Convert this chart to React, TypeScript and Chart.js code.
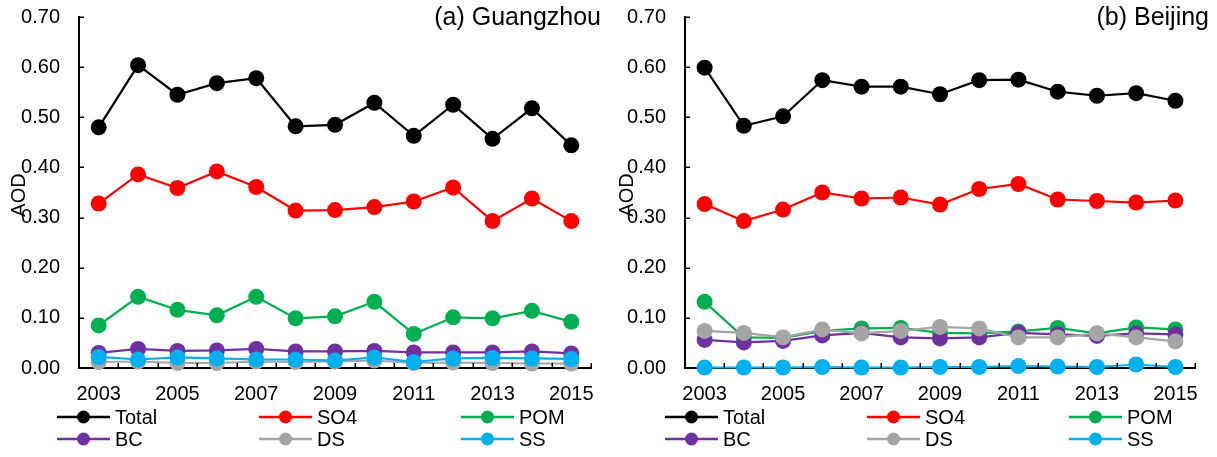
import React, { useEffect, useRef } from 'react';
import { Chart, registerables } from 'chart.js';

Chart.register(...registerables);

const FONT = '"Liberation Sans", Arial, sans-serif';

const years = ['2003', '2004', '2005', '2006', '2007', '2008', '2009', '2010', '2011', '2012', '2013', '2014', '2015'];
const yTicks = [0, 0.1, 0.2, 0.3, 0.4, 0.5, 0.6, 0.7];
const seriesNames = ['Total', 'SO4', 'POM', 'BC', 'DS', 'SS'];
const seriesColors = ['#000000', '#FF0000', '#00B050', '#7030A0', '#A5A5A5', '#00B0F0'];

// (a) Guangzhou
const gzTotal = [0.480, 0.604, 0.545, 0.568, 0.578, 0.482, 0.485, 0.529, 0.463, 0.525, 0.457, 0.518, 0.444];
const gzSO4 = [0.328, 0.386, 0.359, 0.392, 0.361, 0.314, 0.315, 0.321, 0.332, 0.360, 0.293, 0.338, 0.293];
const gzPOM = [0.085, 0.142, 0.116, 0.105, 0.142, 0.099, 0.103, 0.132, 0.068, 0.101, 0.099, 0.114, 0.092];
const gzBC = [0.030, 0.038, 0.034, 0.035, 0.038, 0.033, 0.033, 0.034, 0.031, 0.031, 0.031, 0.033, 0.029];
const gzDS = [0.012, 0.013, 0.010, 0.010, 0.013, 0.012, 0.013, 0.015, 0.010, 0.011, 0.010, 0.009, 0.009];
const gzSS = [0.022, 0.017, 0.021, 0.019, 0.017, 0.017, 0.015, 0.021, 0.012, 0.019, 0.020, 0.019, 0.018];

// (b) Beijing
const bjTotal = [0.599, 0.483, 0.502, 0.574, 0.561, 0.561, 0.546, 0.574, 0.575, 0.551, 0.543, 0.548, 0.533];
const bjSO4 = [0.327, 0.293, 0.316, 0.350, 0.338, 0.340, 0.326, 0.357, 0.367, 0.336, 0.333, 0.330, 0.334];
const bjPOM = [0.132, 0.061, 0.060, 0.074, 0.079, 0.080, 0.070, 0.069, 0.073, 0.080, 0.069, 0.081, 0.077];
const bjBC = [0.056, 0.051, 0.054, 0.065, 0.070, 0.061, 0.059, 0.061, 0.070, 0.067, 0.064, 0.069, 0.067];
const bjDS = [0.074, 0.070, 0.061, 0.077, 0.069, 0.074, 0.082, 0.079, 0.061, 0.061, 0.069, 0.061, 0.053];
const bjSS = [0.001, 0.001, 0.001, 0.002, 0.001, 0.001, 0.002, 0.002, 0.004, 0.003, 0.002, 0.007, 0.002];

const decorPlugin = {
  id: 'decor',
  afterDraw(chart: any, _args: any, opts: any) {
    const ctx = chart.ctx as CanvasRenderingContext2D;
    const { left, right, bottom } = chart.chartArea;
    const ys = chart.scales.y;
    ctx.save();
    // inward tick marks
    ctx.strokeStyle = '#000';
    ctx.lineWidth = 1.5;
    ctx.beginPath();
    yTicks.forEach((v) => {
      const py = Math.round(ys.getPixelForValue(v)) + 0.25;
      ctx.moveTo(left, py);
      ctx.lineTo(left + 5, py);
    });
    const n = chart.data.labels.length;
    for (let i = 0; i <= n; i++) {
      const px = Math.round(left + ((right - left) * i) / n) + 0.25;
      ctx.moveTo(px, bottom);
      ctx.lineTo(px, bottom - 5);
    }
    ctx.stroke();

    // panel title
    ctx.fillStyle = '#000';
    ctx.font = `25px ${FONT}`;
    ctx.textAlign = 'right';
    ctx.textBaseline = 'middle';
    ctx.fillText(opts.title, opts.titleX, opts.titleY);

    // y-axis title
    ctx.save();
    ctx.translate(opts.aodX, opts.aodY);
    ctx.rotate(-Math.PI / 2);
    ctx.textAlign = 'center';
    ctx.font = `20px ${FONT}`;
    ctx.fillText('AOD', 0, 0);
    ctx.restore();

    // legend
    const cols = [57, 259, 461];
    const rows = [417, 439];
    ctx.font = `20px ${FONT}`;
    ctx.textAlign = 'left';
    chart.data.datasets.forEach((ds: any, i: number) => {
      const x0 = cols[i % 3];
      const y0 = rows[Math.floor(i / 3)];
      ctx.strokeStyle = ds.borderColor;
      ctx.lineWidth = 2.5;
      ctx.beginPath();
      ctx.moveTo(x0, y0);
      ctx.lineTo(x0 + 53, y0);
      ctx.stroke();
      ctx.fillStyle = ds.borderColor;
      ctx.beginPath();
      ctx.arc(x0 + 26.5, y0, 6.5, 0, Math.PI * 2);
      ctx.fill();
      ctx.fillStyle = '#000';
      ctx.fillText(ds.label, x0 + 58, y0 + 1);
    });
    ctx.restore();
  },
};

function makeConfig(series: number[][], title: string, yWidth: number, padRight: number): any {
  return {
    type: 'line',
    data: {
      labels: years,
      datasets: series.map((d, i) => ({
        label: seriesNames[i],
        data: d,
        borderColor: seriesColors[i],
        backgroundColor: seriesColors[i],
        pointBackgroundColor: seriesColors[i],
        pointBorderColor: seriesColors[i],
        pointRadius: 8,
        pointBorderWidth: 0,
        borderWidth: 2.2,
        tension: 0,
        fill: false,
        clip: false,
        order: series.length - i,
      })),
    },
    options: {
      responsive: false,
      animation: false,
      devicePixelRatio: 1,
      layout: { padding: { top: 17, right: padRight, left: 0, bottom: 0 } },
      plugins: {
        legend: { display: false },
        tooltip: { enabled: false },
        decor: { title, titleX: 601, titleY: 18, aodX: 19, aodY: 195 },
      },
      scales: {
        x: {
          type: 'category',
          offset: true,
          grid: { display: true, drawOnChartArea: false, drawTicks: false },
          border: { display: true, color: '#000', width: 2 },
          ticks: {
            autoSkip: false,
            maxRotation: 0,
            minRotation: 0,
            padding: 14,
            color: '#000',
            font: { family: FONT, size: 20 },
            callback: (_v: any, idx: number) => (idx % 2 === 0 ? years[idx] : ''),
          },
          afterFit: (s: any) => {
            s.height = 89;
            s.paddingLeft = 0;
            s.paddingRight = 0;
            s.paddingTop = 0;
            s.paddingBottom = 0;
          },
        },
        y: {
          min: 0,
          max: 0.7,
          grid: { display: true, drawOnChartArea: false, drawTicks: false },
          border: { display: true, color: '#000', width: 2 },
          ticks: {
            stepSize: 0.1,
            padding: 19,
            color: '#000',
            font: { family: FONT, size: 20 },
            callback: (v: any) => Number(v).toFixed(2),
          },
          afterFit: (s: any) => {
            s.width = yWidth;
            s.paddingTop = 0;
            s.paddingBottom = 0;
            s.paddingLeft = 0;
            s.paddingRight = 0;
          },
        },
      },
    },
    plugins: [decorPlugin],
  };
}

function Panel(props: { series: number[][]; title: string; width: number; yWidth: number; padRight: number }) {
  const ref = useRef<HTMLCanvasElement>(null);
  useEffect(() => {
    if (!ref.current) return;
    const chart = new Chart(ref.current, makeConfig(props.series, props.title, props.yWidth, props.padRight));
    return () => chart.destroy();
  }, []);
  return <canvas ref={ref} width={props.width} height={457} style={{ display: 'block', width: props.width, height: 457 }} />;
}

export default function App() {
  return (
    <div style={{ position: 'absolute', left: 0, top: 0, width: 1217, height: 457, display: 'flex', background: '#fff' }}>
      <Panel series={[gzTotal, gzSO4, gzPOM, gzBC, gzDS, gzSS]} title="(a) Guangzhou" width={608} yWidth={79} padRight={17} />
      <Panel series={[bjTotal, bjSO4, bjPOM, bjBC, bjDS, bjSS]} title="(b) Beijing" width={609} yWidth={77} padRight={22} />
    </div>
  );
}
